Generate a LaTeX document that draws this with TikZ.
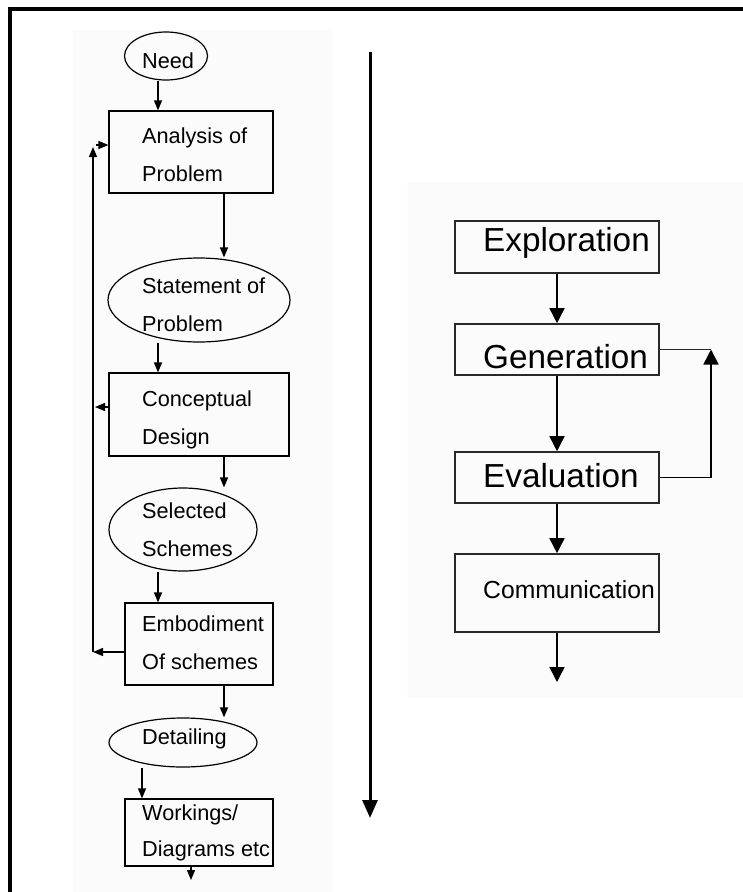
\documentclass[tikz,border=0pt]{standalone}
\usepackage{fontspec}
\setmainfont{Liberation Sans}
\usetikzlibrary{arrows.meta,shapes.geometric}
\definecolor{panel}{RGB}{251,251,251}
\definecolor{boxline}{RGB}{40,40,40}
\tikzset{
  smallbox/.style={draw=black,line width=1.2pt,rectangle,inner sep=0pt},
  smalloval/.style={draw=black,line width=1.2pt,ellipse,inner sep=0pt},
  bigbox/.style={draw=boxline,line width=1.6pt,rectangle,inner sep=0pt},
  smalltext/.style={anchor=base west,inner sep=0pt,font=\fontsize{21.7}{25}\selectfont},
  bigtext/.style={anchor=base west,inner sep=0pt,font=\fontsize{33.3}{38}\selectfont},
  midtext/.style={anchor=base west,inner sep=0pt,font=\fontsize{24.7}{28}\selectfont},
  la/.style={draw=black,line width=1.3pt,-{Triangle[width=8pt,length=10pt]}},
  ra/.style={draw=black,line width=1.6pt,-{Triangle[width=15pt,length=15pt]}},
  ta/.style={draw=black,line width=3pt,-{Triangle[width=15pt,length=18pt]}},
}
\begin{document}
\begin{tikzpicture}[x=1pt,y=-1pt]
\useasboundingbox (0,0) rectangle (743,892);
\fill[white] (0,0) rectangle (743,892);
% light panels behind the two charts
\fill[panel] (73,30) rectangle (333,892);
\fill[panel] (407,182) rectangle (743,698);
% frame
\draw[line width=4pt] (10,892) -- (10,9) -- (743,9);

% ---------- left chart ----------
\node[smalloval,minimum width=83pt,minimum height=48pt] (need) at (166,56) {};
\node[smallbox,minimum width=164pt,minimum height=82pt] (ana) at (191,152) {};
\node[smalloval,minimum width=182pt,minimum height=84pt] (stm) at (199,300) {};
\node[smallbox,minimum width=180pt,minimum height=83pt] (con) at (199,414.5) {};
\node[smalloval,minimum width=148pt,minimum height=83pt] (sel) at (183,529.5) {};
\node[smallbox,minimum width=148pt,minimum height=82pt] (emb) at (199,644) {};
\node[smalloval,minimum width=148pt,minimum height=49pt] (det) at (183,742.5) {};
\node[smallbox,minimum width=148pt,minimum height=67pt] (wrk) at (199,832.5) {};

\node[smalltext] (tneed) at (142,68) {Need};
\node[smalltext] (tana1) at (142,143) {Analysis of};
\node[smalltext] (tana2) at (142,181) {Problem};
\node[smalltext] (tstm1) at (142,293) {Statement of};
\node[smalltext] (tstm2) at (142,331) {Problem};
\node[smalltext] (tcon1) at (142,406) {Conceptual};
\node[smalltext] (tcon2) at (142,444) {Design};
\node[smalltext] (tsel1) at (142,518) {Selected};
\node[smalltext] (tsel2) at (142,556) {Schemes};
\node[smalltext] (temb1) at (142,631) {Embodiment};
\node[smalltext] (temb2) at (142,669) {Of schemes};
\node[smalltext] (tdet) at (142,744) {Detailing};
\node[smalltext] (twrk1) at (142,820) {Workings/};
\node[smalltext] (twrk2) at (142,856) {Diagrams etc};

\coordinate (xa) at (158,0);
\coordinate (xb) at (224,0);
\coordinate (xc) at (142,0);
\coordinate (xd) at (191,0);
\coordinate (wend) at (191,880);

\draw[la] (need.south -| xa) -- (ana.north -| xa);
\draw[la] (ana.south -| xb) -- (stm.north -| xb);
\draw[la] (stm.south -| xa) -- (con.north -| xa);
\draw[la] (con.south -| xb) -- (sel.north -| xb);
\draw[la] (sel.south -| xa) -- (emb.north -| xa);
\draw[la] (emb.south -| xb) -- (det.north -| xb);
\draw[la] (det.south -| xc) -- (wrk.north -| xc);
\draw[la] (wrk.south -| xd) -- (wend);

% feedback loop on the left
\coordinate (fb0) at (93,652);
\coordinate (fb1) at (93,147);
\coordinate (fb2) at (96,145);
\coordinate (fb3) at (95,407);
\draw[la] (emb.west |- fb0) -- (fb0);
\draw[la] (fb0) -- (fb1);
\draw[la] (fb2) -- (ana.west |- fb2);
\draw[la] (con.west |- fb3) -- (fb3);

% long downward arrow
\coordinate (tt) at (370,52);
\coordinate (tbm) at (370,818);
\draw[ta] (tt) -- (tbm);

% ---------- right chart ----------
\node[bigbox,minimum width=204pt,minimum height=52pt] (exp) at (557,247) {};
\node[bigbox,minimum width=204pt,minimum height=51pt] (gen) at (557,349.5) {};
\node[bigbox,minimum width=204pt,minimum height=51pt] (eva) at (557,477.5) {};
\node[bigbox,minimum width=204pt,minimum height=78pt] (com) at (557,593) {};

\node[bigtext] (texp) at (483,251) {Exploration};
\node[bigtext] (tgen) at (483,368) {Generation};
\node[bigtext] (teva) at (483,487) {Evaluation};
\node[midtext] (tcom) at (483,598) {Communication};

\coordinate (rend) at (557,682);
\coordinate (loop) at (711,349.5);

\draw[ra] (exp.south) -- (gen.north);
\draw[ra] (gen.south) -- (eva.north);
\draw[ra] (eva.south) -- (com.north);
\draw[ra] (com.south) -- (rend);
\draw[draw=boxline,line width=1.6pt] (gen.east) -- (loop);
\draw[ra] (eva.east) -| (loop);
\end{tikzpicture}
\end{document}
